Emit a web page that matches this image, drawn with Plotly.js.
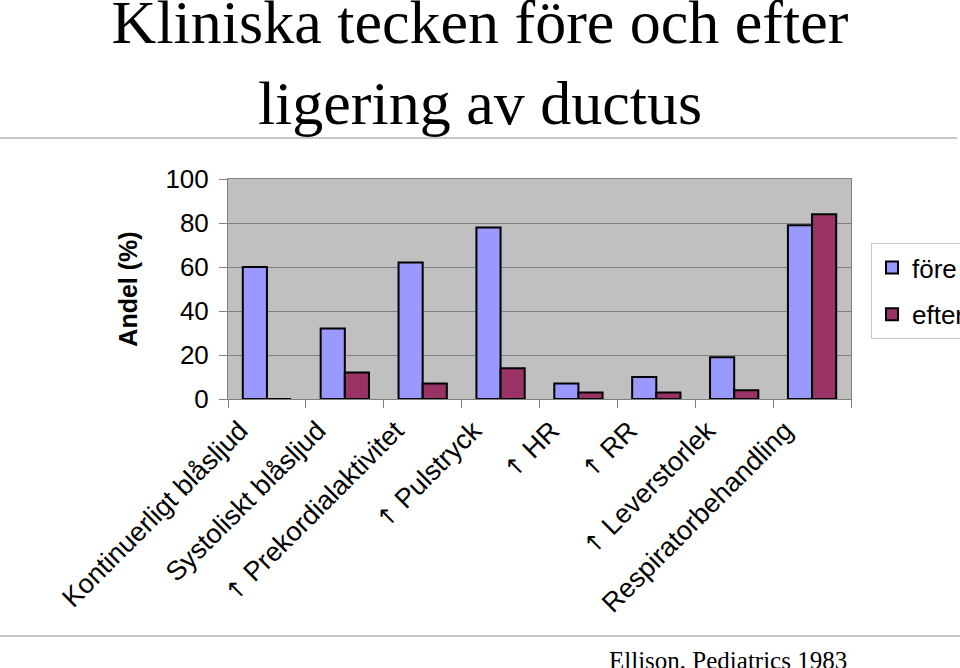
<!DOCTYPE html>
<html>
<head>
<meta charset="utf-8">
<script src="https://cdn.plot.ly/plotly-3.0.1.min.js"></script>
<style>html,body{margin:0;padding:0;background:#fff;}#chart{width:960px;height:668px;}</style>
</head>
<body>
<div id="chart"></div>
<script>
const ARROW = "<span style=\"font-family:'DejaVu Sans';font-size:24px\">↑</span> ";
const categories = [
  "Kontinuerligt blåsljud",
  "Systoliskt blåsljud",
  ARROW + "Prekordialaktivitet",
  ARROW + "Pulstryck",
  ARROW + "HR",
  ARROW + "RR",
  ARROW + "Leverstorlek",
  "Respiratorbehandling"
];
const fore = [60, 32, 62, 78, 7, 10, 19, 79];
const efter = [0, 12, 7, 14, 3, 3, 4, 84];
const seriesNames = ["före", "efter"];
const yTicks = [0, 20, 40, 60, 80, 100];

const W = 960, H = 668;
const L = 228, R = 851, T = 179, B = 399;
const pw = R - L, ph = B - T;
const px = v => (v - L) / pw;
const py = v => (B - v) / ph;

const traces = [
  {type: "bar", name: seriesNames[0], x: categories, y: fore, legendgroup: "a",
   marker: {color: "#9999ff", line: {color: "#000000", width: 2}}},
  {type: "bar", name: seriesNames[1], x: categories, y: efter, legendgroup: "b",
   marker: {color: "#993366", line: {color: "#000000", width: 2}}}
];

const layout = {
  width: W, height: H,
  margin: {l: L, r: W - R, t: T, b: H - B, pad: 0, autoexpand: false},
  paper_bgcolor: "#ffffff",
  plot_bgcolor: "#c0c0c0",
  font: {family: "Arial, 'Liberation Sans', sans-serif", size: 26, color: "#000"},
  title: {
    text: "Kliniska tecken före och efter<br>ligering av ductus",
    font: {family: "'Liberation Serif', 'Times New Roman', serif", size: 62, color: "#000"},
    x: 0.5, xanchor: "center", xref: "container",
    y: 0.935, yanchor: "top", yref: "container"
  },
  barmode: "group",
  bargap: 0.38,
  bargroupgap: 0,
  showlegend: true,
  legend: {
    xref: "container", yref: "container",
    x: 871 / W, xanchor: "left", y: 1 - 243 / H, yanchor: "top",
    bordercolor: "#c8c8c8", borderwidth: 1, bgcolor: "#ffffff",
    font: {size: 26, family: "Arial, 'Liberation Sans', sans-serif"},
    tracegroupgap: 10, traceorder: "grouped"
  },
  xaxis: {
    type: "category",
    tickangle: -45,
    tickson: "boundaries",
    ticks: "outside", ticklen: 8, tickcolor: "#808080",
    ticklabelshift: -27, ticklabelstandoff: 4,
    showline: true, linecolor: "#808080", linewidth: 1, mirror: true,
    showgrid: false,
    tickfont: {size: 27},
    automargin: false
  },
  yaxis: {
    range: [0, 100],
    tickvals: yTicks,
    ticks: "outside", ticklen: 8, tickcolor: "#808080",
    ticklabelstandoff: 5,
    showline: true, linecolor: "#808080", linewidth: 1, mirror: true,
    showgrid: true, gridcolor: "#808080", gridwidth: 1,
    zeroline: false,
    tickfont: {size: 26},
    title: {text: "<b>Andel (%)</b>", font: {size: 25}, standoff: 20},
    automargin: false
  },
  shapes: [
    {type: "line", xref: "paper", yref: "paper", x0: px(0), x1: px(957), y0: py(138), y1: py(138),
     line: {color: "#b4b4b4", width: 1.5}},
    {type: "line", xref: "paper", yref: "paper", x0: px(0), x1: px(960), y0: py(636), y1: py(636),
     line: {color: "#b4b4b4", width: 1.5}}
  ],
  annotations: [
    {text: "Ellison, Pediatrics 1983", xref: "paper", yref: "paper",
     x: px(728), xanchor: "center", y: py(645), yanchor: "top", showarrow: false,
     font: {family: "'Liberation Serif', 'Times New Roman', serif", size: 25, color: "#000"}}
  ]
};

Plotly.newPlot("chart", traces, layout, {displayModeBar: false, staticPlot: true});
</script>
</body>
</html>
